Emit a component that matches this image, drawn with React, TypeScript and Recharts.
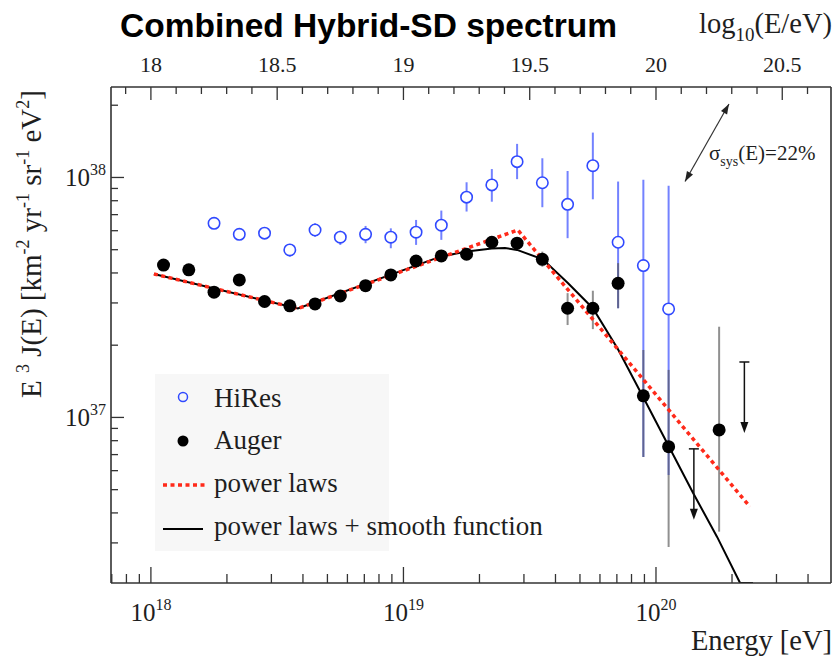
import { ComposedChart, Scatter, Line, XAxis, YAxis, ErrorBar, ReferenceLine, Legend } from 'recharts'

const SERIF = '"Liberation Serif", "Times New Roman", serif'
const SANS = '"Liberation Sans", Arial, sans-serif'
const INK = '#1e1e1e'

// log10(E/eV) and log10(E^3 J) ranges of the frame
const X_MIN = 17.842
const X_MAX = 20.693
const Y_MIN = 36.31
const Y_MAX = 38.377

// HiRes (open circles)
const hiresLogE = [18.25, 18.35, 18.45, 18.55, 18.65, 18.75, 18.85, 18.95, 19.05, 19.15, 19.25, 19.35, 19.45, 19.55, 19.65, 19.75, 19.85, 19.95, 20.05]
const hiresLogJ = [37.809, 37.763, 37.768, 37.698, 37.781, 37.751, 37.763, 37.751, 37.772, 37.801, 37.918, 37.969, 38.066, 37.978, 37.888, 38.049, 37.73, 37.633, 37.452]
const hiresLow = [37.797, 37.751, 37.756, 37.67, 37.753, 37.719, 37.726, 37.705, 37.719, 37.74, 37.858, 37.899, 37.993, 37.876, 37.747, 37.909, 37.455, 36.835, 36.76]
const hiresHigh = [37.821, 37.775, 37.78, 37.723, 37.809, 37.778, 37.798, 37.788, 37.823, 37.862, 37.98, 38.035, 38.14, 38.08, 38.027, 38.187, 37.983, 37.99, 37.965]

// Auger (filled circles)
const augerLogE = [18.05, 18.15, 18.25, 18.35, 18.45, 18.55, 18.65, 18.75, 18.85, 18.95, 19.05, 19.15, 19.25, 19.35, 19.45, 19.55, 19.65, 19.75, 19.85, 19.95, 20.05, 20.25]
const augerLogJ = [37.635, 37.615, 37.522, 37.573, 37.483, 37.465, 37.473, 37.506, 37.549, 37.594, 37.652, 37.673, 37.68, 37.73, 37.726, 37.659, 37.455, 37.455, 37.559, 37.09, 36.878, 36.948]
const augerLow = [37.623, 37.603, 37.51, 37.561, 37.471, 37.453, 37.461, 37.494, 37.537, 37.582, 37.64, 37.66, 37.667, 37.716, 37.712, 37.628, 37.385, 37.368, 37.455, 36.835, 36.46, 36.524]
const augerHigh = [37.647, 37.627, 37.534, 37.585, 37.495, 37.477, 37.485, 37.518, 37.561, 37.606, 37.664, 37.686, 37.693, 37.744, 37.74, 37.691, 37.518, 37.528, 37.643, 37.281, 37.198, 37.378]

// Auger upper limits
const limitLogE = [20.15, 20.35]
const limitLogJ = [36.869, 37.231]

// fitted curves
const powerLawE = [18.012, 18.582, 19.453, 20.372]
const powerLawJ = [37.598, 37.454, 37.781, 36.628]
const smoothE = [18.012, 18.582, 19.149, 19.251, 19.35, 19.402, 19.45, 19.552, 19.651, 19.75, 19.849, 19.948, 20.048, 20.147, 20.242, 20.333, 20.384]
const smoothJ = [37.598, 37.454, 37.671, 37.691, 37.704, 37.706, 37.698, 37.659, 37.56, 37.455, 37.285, 37.087, 36.885, 36.685, 36.502, 36.31, 36.31]

// systematic-uncertainty arrow
const sysArrowE = [20.115, 20.289]
const sysArrowJ = [37.983, 38.306]

// axis ticks
const decades = [18, 19, 20]
const minorFactors = [2, 3, 4, 5, 6, 7, 8, 9]
const yDecades = [37, 38]
const topMajor = [18, 18.5, 19, 19.5, 20, 20.5]

const logTicks = (lo: number, hi: number) => {
  const out: number[] = []
  for (let d = Math.floor(lo); d <= Math.ceil(hi); d++) {
    out.push(d)
    minorFactors.forEach((m) => out.push(d + Math.log10(m)))
  }
  return out.filter((v) => v >= lo && v <= hi)
}
const bottomTicks = logTicks(X_MIN, X_MAX)
const leftTicks = logTicks(Y_MIN, Y_MAX)
const topTicks = Array.from({ length: 28 }, (_, i) => Math.round((17.9 + i * 0.1) * 10) / 10)

const isIn = (arr: number[], v: number) => arr.some((a) => Math.abs(a - v) < 1e-6)

const hiresData = hiresLogE.map((x, i) => ({ x, y: hiresLogJ[i], err: [hiresLogJ[i] - hiresLow[i], hiresHigh[i] - hiresLogJ[i]] }))
const augerData = augerLogE.map((x, i) => ({ x, y: augerLogJ[i], err: [augerLogJ[i] - augerLow[i], augerHigh[i] - augerLogJ[i]] }))
const limitData = limitLogE.map((x, i) => ({ x, y: limitLogJ[i] }))
const powerLawData = powerLawE.map((x, i) => ({ x, y: powerLawJ[i] }))
const smoothData = smoothE.map((x, i) => ({ x, y: smoothJ[i] }))

type Part = [string, number]

function RichText({ parts, size, small, shift, ...rest }: any) {
  let level = 0
  return (
    <text fontFamily={SERIF} fill={INK} fontSize={size} {...rest}>
      {(parts as Part[]).map(([s, lv], i) => {
        const dy = (level - lv) * shift
        level = lv
        return (
          <tspan key={i} dy={dy} fontSize={lv === 0 ? size : small}>
            {s}
          </tspan>
        )
      })}
    </text>
  )
}

function BottomTick({ x, y, payload }: any) {
  const major = isIn(decades, payload.value)
  return (
    <g>
      <line x1={x} x2={x} y1={y} y2={y - (major ? 16 : 9)} stroke="#333" strokeWidth={1.3} />
      {major && (
        <RichText x={x} y={y + 38} textAnchor="middle" size={25} small={16} shift={11} parts={[['10', 0], [String(payload.value), 1]]} />
      )}
    </g>
  )
}

function LeftTick({ x, y, payload }: any) {
  const major = isIn(yDecades, payload.value)
  return (
    <g>
      <line x1={x} x2={x + (major ? 13 : 7)} y1={y} y2={y} stroke="#333" strokeWidth={1.3} />
      {major && (
        <RichText x={x - 5} y={y + 9} textAnchor="end" size={25} small={16} shift={11} parts={[['10', 0], [String(payload.value), 1]]} />
      )}
    </g>
  )
}

function TopTick({ x, y, payload }: any) {
  const major = isIn(topMajor, payload.value)
  return (
    <g>
      <line x1={x} x2={x} y1={y} y2={y + (major ? 13 : 7)} stroke="#333" strokeWidth={1.3} />
      {major && (
        <text x={x} y={y - 15} textAnchor="middle" fontFamily={SERIF} fontSize={22} fill={INK}>
          {payload.value}
        </text>
      )}
    </g>
  )
}

const HiResMarker = ({ cx, cy }: any) => <circle cx={cx} cy={cy} r={5.7} fill="#fff" stroke="#3049ff" strokeWidth={1.6} />
const AugerMarker = ({ cx, cy }: any) => <circle cx={cx} cy={cy} r={6.5} fill="#000" />

const LimitArrow = ({ cx, cy }: any) => (
  <g stroke="#111" strokeWidth={1.5}>
    <line x1={cx - 5} x2={cx + 5} y1={cy} y2={cy} />
    <line x1={cx} x2={cx} y1={cy} y2={cy + 62} />
    <polygon points={`${cx - 4},${cy + 60} ${cx + 4},${cy + 60} ${cx},${cy + 71}`} fill="#111" stroke="none" />
  </g>
)

function SysArrow({ x1, y1, x2, y2 }: any) {
  const head = (tx: number, ty: number, fx: number, fy: number) => {
    const a = Math.atan2(ty - fy, tx - fx)
    const L = 10
    const W = 3.5
    const bx = tx - L * Math.cos(a)
    const by = ty - L * Math.sin(a)
    return `${tx},${ty} ${bx + W * Math.sin(a)},${by - W * Math.cos(a)} ${bx - W * Math.sin(a)},${by + W * Math.cos(a)}`
  }
  const mx = (x1 + x2) / 2
  const my = (y1 + y2) / 2
  return (
    <g>
      <line x1={x1} y1={y1} x2={x2} y2={y2} stroke="#333" strokeWidth={1.2} />
      <polygon points={head(x1, y1, x2, y2)} fill="#222" />
      <polygon points={head(x2, y2, x1, y1)} fill="#222" />
      <RichText x={mx + 2} y={my + 17} size={21} small={14} shift={-6} parts={[['σ', 0], ['sys', 1], ['(E)=22%', 0]]} />
    </g>
  )
}

function LegendBox() {
  return (
    <svg width={400} height={180} style={{ overflow: 'visible', display: 'block' }}>
      <rect x={0} y={0} width={234} height={177} fill="#f7f7f7" />
      <circle cx={28} cy={23} r={4.5} fill="none" stroke="#3049ff" strokeWidth={1.5} />
      <text x={59} y={33} fontFamily={SERIF} fontSize={27} fill={INK}>HiRes</text>
      <circle cx={28} cy={67} r={5.5} fill="#000" />
      <text x={59} y={75} fontFamily={SERIF} fontSize={27} fill={INK}>Auger</text>
      <line x1={8} x2={50} y1={111} y2={111} stroke="#ff2a1a" strokeWidth={3.5} strokeDasharray="4 3.5" />
      <text x={59} y={118} fontFamily={SERIF} fontSize={27} fill={INK}>power laws</text>
      <line x1={8} x2={48} y1={155} y2={155} stroke="#000" strokeWidth={2} />
      <text x={59} y={161} fontFamily={SERIF} fontSize={27} fill={INK}>power laws + smooth function</text>
    </svg>
  )
}

const TopLabels = ({ viewBox }: any) => (
  <g>
    <text x={viewBox.x + 9} y={37} fontFamily={SANS} fontWeight="bold" fontSize={33.5} fill="#000">
      Combined Hybrid-SD spectrum
    </text>
    <RichText x={viewBox.x + viewBox.width + 1} y={33} textAnchor="end" size={28.5} small={19} shift={-8} parts={[['log', 0], ['10', 1], ['(E/eV)', 0]]} />
  </g>
)

const BottomLabel = ({ viewBox }: any) => (
  <text x={viewBox.x + viewBox.width + 1} y={viewBox.y + 67} textAnchor="end" fontFamily={SERIF} fontSize={28.5} fill={INK}>
    Energy [eV]
  </text>
)

const LeftLabel = ({ viewBox }: any) => {
  const cx = 41
  const cy = viewBox.y + 157
  return (
    <RichText
      x={cx}
      y={cy}
      transform={`rotate(-90 ${cx} ${cy})`}
      textAnchor="middle"
      size={29}
      small={18}
      shift={12}
      parts={[['E ', 0], ['3', 1], [' J(E) [km', 0], ['-2', 1], [' yr', 0], ['-1', 1], [' sr', 0], ['-1', 1], [' eV', 0], ['2', 1], [']', 0]]}
    />
  )
}

export default function App() {
  return (
    <div style={{ position: 'absolute', left: 0, top: 0, width: 836, height: 658, background: '#fff' }}>
      <ComposedChart width={836} height={658} margin={{ top: 0, right: 5, bottom: 0, left: 0 }}>
        <XAxis
          type="number"
          dataKey="x"
          domain={[X_MIN, X_MAX]}
          allowDataOverflow
          ticks={bottomTicks}
          interval={0}
          tickSize={0}
          tickMargin={0}
          tickLine={false}
          tick={BottomTick}
          height={75}
          axisLine={{ stroke: '#333', strokeWidth: 1.6 }}
          label={BottomLabel}
        />
        <XAxis
          xAxisId="top"
          orientation="top"
          type="number"
          dataKey="x"
          domain={[X_MIN, X_MAX]}
          allowDataOverflow
          ticks={topTicks}
          interval={0}
          tickSize={0}
          tickMargin={0}
          tickLine={false}
          tick={TopTick}
          height={87}
          axisLine={{ stroke: '#333', strokeWidth: 1.6 }}
          label={TopLabels}
        />
        <YAxis
          type="number"
          dataKey="y"
          domain={[Y_MIN, Y_MAX]}
          allowDataOverflow
          ticks={leftTicks}
          interval={0}
          tickSize={0}
          tickMargin={0}
          tickLine={false}
          tick={LeftTick}
          width={111}
          axisLine={{ stroke: '#333', strokeWidth: 1.6 }}
          label={LeftLabel}
        />
        <ReferenceLine x={X_MAX} stroke="#333" strokeWidth={1.6} ifOverflow="visible" />
        <Scatter name="HiRes" data={hiresData} dataKey="y" shape={HiResMarker} isAnimationActive={false}>
          <ErrorBar dataKey="err" direction="y" width={0} stroke="#5a6cff" strokeOpacity={0.85} strokeWidth={2} isAnimationActive={false} />
        </Scatter>
        <Scatter name="Auger" data={augerData} dataKey="y" shape={AugerMarker} isAnimationActive={false}>
          <ErrorBar dataKey="err" direction="y" width={0} stroke="#555" strokeOpacity={0.65} strokeWidth={2} isAnimationActive={false} />
        </Scatter>
        <Scatter name="limits" data={limitData} dataKey="y" shape={LimitArrow} isAnimationActive={false} legendType="none" />
        <Line name="power laws + smooth function" data={smoothData} dataKey="y" type="linear" stroke="#000" strokeWidth={2} dot={false} isAnimationActive={false} />
        <Line name="power laws" data={powerLawData} dataKey="y" type="linear" stroke="#ff2a1a" strokeWidth={3.5} strokeDasharray="4 3.5" dot={false} isAnimationActive={false} />
        <ReferenceLine
          segment={[
            { x: sysArrowE[0], y: sysArrowJ[0] },
            { x: sysArrowE[1], y: sysArrowJ[1] },
          ]}
          shape={SysArrow}
          ifOverflow="visible"
        />
        <Legend
          layout="vertical"
          align="center"
          verticalAlign="middle"
          wrapperStyle={{ position: 'absolute', left: 155, top: 374, width: 234, height: 177 }}
          content={() => <LegendBox />}
        />
      </ComposedChart>
    </div>
  )
}
